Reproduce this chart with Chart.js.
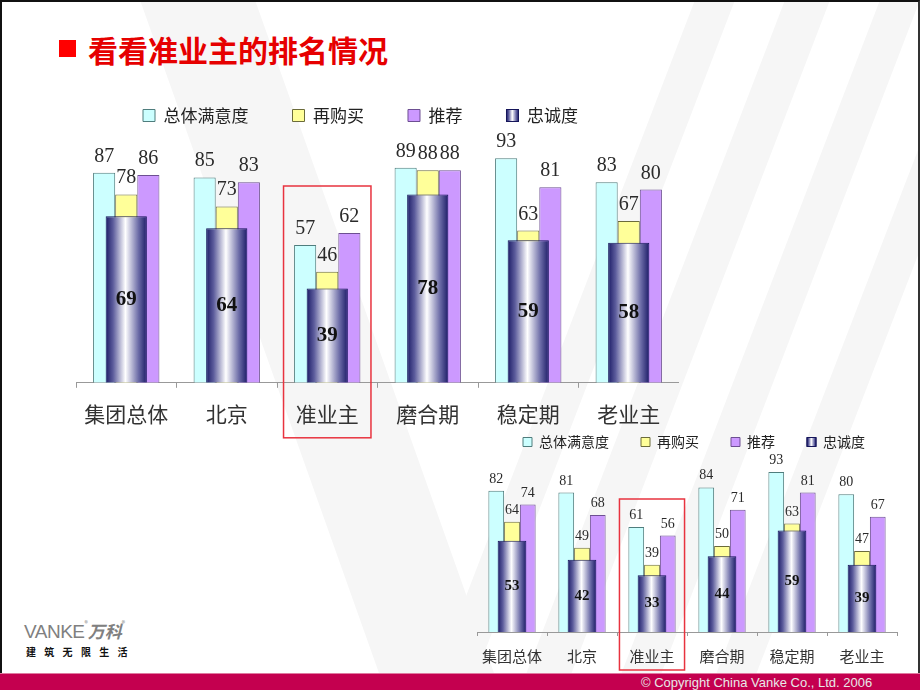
<!DOCTYPE html>
<html>
<head>
<meta charset="utf-8">
<script src="https://cdn.jsdelivr.net/npm/chart.js@4.4.1/dist/chart.umd.min.js"></script>
<style>
    html, body { margin: 0; padding: 0; }
    body {
        width: 920px; height: 690px; position: relative; overflow: hidden;
        background: #fff; font-family: "Noto Sans CJK SC", sans-serif;
    }
    #watermark { position: absolute; left: 0; top: 0; }
    #frame {
        position: absolute; left: 0; top: 0; width: 916px; height: 690px;
        border-left: 2px solid #111; border-right: 2px solid #333; border-top: 2px solid #111;
        box-sizing: content-box;
    }
    #title { position: absolute; left: 59px; top: 33px; height: 32px; }
    #title .mark { position: absolute; left: 0; top: 7px; width: 17px; height: 17px; background: #f00; }
    #title .text {
        position: absolute; left: 29px; top: 0; white-space: nowrap;
        font-size: 30px; line-height: 32px; font-weight: bold; color: #e60000;
    }
    canvas { position: absolute; }
    #c1 { left: 42px; top: 63px; }
    #c2 { left: 471px; top: 403px; }
    #logo { position: absolute; left: 24px; top: 618px; color: #808080; white-space: nowrap; }
    #logo .en { font-family: "Liberation Sans", sans-serif; font-size: 19px; letter-spacing: -0.5px; }
    #logo .reg { font-size: 7px; vertical-align: top; }
    #logo .cn { font-size: 17px; font-weight: bold; font-style: italic; }
    #logo .motto {
        position: absolute; left: 2px; top: 26px; font-size: 10px; font-weight: bold;
        letter-spacing: 8.3px; color: #111;
    }
    #footer {
        position: absolute; left: 0; top: 673px; width: 920px; height: 17px;
        background: #c4004f; border-top: 1px solid #e07aa0;
    }
    #footer span {
        position: absolute; left: 641px; top: 0; font-family: "Liberation Sans", sans-serif;
        font-size: 13px; line-height: 17px; color: #e8e8e8;
    }
</style>
</head>
<body>
<svg id="watermark" width="920" height="690">
    <polygon points="140,0 255,0 500,690 385,690" fill="#f6f6f6"/>
    <polygon points="430,690 470,690 735,0 695,0" fill="#f6f6f6"/>
    <polygon points="520,690 565,690 830,0 785,0" fill="#f6f6f6"/>
    <polygon points="615,690 655,690 920,0 880,0" fill="#f6f6f6"/>
    <polygon points="710,690 750,690 920,250 920,145" fill="#f6f6f6"/>
</svg>
<div id="frame"></div>
<div id="title"><div class="mark"></div><div class="text">看看准业主的排名情况</div></div>

<canvas id="c1" width="637" height="378"></canvas>
<canvas id="c2" width="446" height="273"></canvas>

<div id="logo">
    <span class="en">VANKE</span><span class="reg">®</span><span class="cn">万科</span><span class="reg">®</span>
    <div class="motto">建筑无限生活</div>
</div>
<div id="footer"><span>© Copyright China Vanke Co., Ltd. 2006</span></div>

<script>
// Categories and series names
const categories = ['集团总体', '北京', '准业主', '磨合期', '稳定期', '老业主'];
const seriesNames = ['总体满意度', '再购买', '推荐', '忠诚度'];
const highlighted = '准业主';

// Upper chart
const satisfactionA = [87, 85, 57, 89, 93, 83];
const repurchaseA = [78, 73, 46, 88, 63, 67];
const recommendA = [86, 83, 62, 88, 81, 80];
const loyaltyA = [69, 64, 39, 78, 59, 58];

// Lower chart
const satisfactionB = [82, 81, 61, 84, 93, 80];
const repurchaseB = [64, 49, 39, 50, 63, 47];
const recommendB = [74, 68, 56, 71, 81, 67];
const loyaltyB = [53, 42, 33, 44, 59, 39];

const CJK = '"Noto Sans CJK SC", sans-serif';
const SERIF = '"Liberation Serif", "DejaVu Serif", serif';

// gradient stops of the cylinder bars
const addCylinderStops = (g) => {
    g.addColorStop(0, '#1b1b66');
    g.addColorStop(0.18, '#5c5c9c');
    g.addColorStop(0.48, '#ffffff');
    g.addColorStop(0.8, '#6a6aa6');
    g.addColorStop(1, '#1b1b66');
    return g;
};

// value labels: above the plain bars, centred inside the cylinder
const valueLabels = {
    id: 'valueLabels',
    afterDatasetsDraw(chart, args, opts) {
        const ctx = chart.ctx;
        ctx.save();
        ctx.textAlign = 'center';
        chart.data.datasets.forEach((ds, di) => {
            const meta = chart.getDatasetMeta(di);
            meta.data.forEach((bar, i) => {
                const v = ds.data[i];
                if (ds.inner) {
                    ctx.font = 'bold ' + opts.innerSize + 'px ' + SERIF;
                    ctx.textBaseline = 'middle';
                    ctx.fillStyle = '#111';
                    ctx.fillText(v, bar.x, (bar.y + bar.base) / 2);
                } else {
                    ctx.font = opts.size + 'px ' + SERIF;
                    ctx.textBaseline = 'alphabetic';
                    ctx.fillStyle = '#2a2a2a';
                    ctx.fillText(v, bar.x, bar.y - opts.gap);
                }
            });
        });
        ctx.restore();
    }
};

// red frame around one category
const highlightBox = {
    id: 'highlightBox',
    afterDraw(chart, args, opts) {
        const xs = chart.scales.x;
        const idx = chart.data.labels.indexOf(opts.label);
        if (idx < 0) return;
        const cw = xs.width / chart.data.labels.length;
        const cx = xs.getPixelForValue(idx);
        const area = chart.chartArea;
        const ctx = chart.ctx;
        ctx.save();
        ctx.strokeStyle = '#e8333f';
        ctx.lineWidth = 1.5;
        ctx.strokeRect(cx - cw * opts.half, area.top + opts.top, cw * opts.half * 2,
            area.bottom - area.top - opts.top + opts.bottom);
        ctx.restore();
    }
};

// legend swatch of the cylinder series gets the same gradient
const legendCylinder = {
    id: 'legendCylinder',
    afterDraw(chart) {
        const legend = chart.legend;
        if (!legend || !legend.legendHitBoxes) return;
        const lab = legend.options.labels;
        const fontSize = lab.font.size;
        legend.legendItems.forEach((item, k) => {
            const ds = chart.data.datasets[item.datasetIndex];
            if (!ds.inner) return;
            const hb = legend.legendHitBoxes[k];
            const x = hb.left;
            const y = hb.top + Math.max((fontSize - lab.boxHeight) / 2, 0);
            const ctx = chart.ctx;
            ctx.save();
            ctx.fillStyle = addCylinderStops(ctx.createLinearGradient(x, 0, x + lab.boxWidth, 0));
            ctx.fillRect(x, y, lab.boxWidth, lab.boxHeight);
            ctx.strokeStyle = '#15155a';
            ctx.lineWidth = 1;
            ctx.strokeRect(x, y, lab.boxWidth, lab.boxHeight);
            ctx.restore();
        });
    }
};

const buildChart = (id, sat, rep, rec, loy, s) => {
    const ctx = document.getElementById(id)?.getContext('2d');
    if (!ctx) return;

    const cylinderFill = (c) => {
        const chart = c.chart;
        const xs = chart.scales.x;
        if (!xs || !xs.width || c.dataIndex === undefined) return '#2a2a78';
        const cx = xs.getPixelForValue(c.dataIndex);
        if (!isFinite(cx)) return '#2a2a78';
        const w = xs.width / categories.length * s.cylPct;
        return addCylinderStops(chart.ctx.createLinearGradient(cx - w / 2, 0, cx + w / 2, 0));
    };

    const plain = (label, data, fill, border) => ({
        label: label,
        data: data,
        order: 1,
        backgroundColor: fill,
        borderColor: border,
        borderWidth: 1,
        categoryPercentage: s.groupPct,
        barPercentage: 1
    });

    new Chart(ctx, {
        type: 'bar',
        data: {
            labels: categories,
            datasets: [
                plain(seriesNames[0], sat, '#ccffff', '#4f7d7d'),
                plain(seriesNames[1], rep, '#ffff99', '#6b6b3a'),
                plain(seriesNames[2], rec, '#cc99ff', '#6d4f92'),
                {
                    label: seriesNames[3],
                    data: loy,
                    inner: true,
                    grouped: false,
                    order: 0,
                    backgroundColor: cylinderFill,
                    borderColor: '#15155a',
                    borderWidth: 1,
                    categoryPercentage: s.cylPct,
                    barPercentage: 1
                }
            ]
        },
        options: {
            responsive: false,
            animation: false,
            layout: { padding: 0 },
            plugins: {
                legend: {
                    position: 'top',
                    labels: {
                        boxWidth: s.box,
                        boxHeight: s.box,
                        padding: s.legendPad,
                        color: '#222',
                        font: { family: CJK, size: s.legendFont },
                        sort: (a, b) => a.datasetIndex - b.datasetIndex
                    }
                },
                tooltip: { enabled: false },
                valueLabels: { size: s.valueFont, innerSize: s.innerFont, gap: s.gap },
                highlightBox: { label: highlighted, half: s.boxHalf, top: s.boxTop, bottom: s.boxBottom }
            },
            scales: {
                x: {
                    offset: true,
                    grid: { display: true, drawOnChartArea: false, drawTicks: true, tickLength: s.tick, color: '#999' },
                    border: { display: true, color: '#999' },
                    ticks: { color: '#333', padding: s.tickPad, font: { family: CJK, size: s.catFont } }
                },
                y: {
                    position: s.yPos,
                    min: 0,
                    max: s.yMax,
                    afterFit: (sc) => { sc.width = s.yWidth; },
                    ticks: { display: false },
                    grid: { display: false },
                    border: { display: false }
                }
            }
        },
        plugins: [valueLabels, highlightBox, legendCylinder]
    });
};

document.addEventListener('DOMContentLoaded', function() {
    buildChart('c1', satisfactionA, repurchaseA, recommendA, loyaltyA, {
        groupPct: 0.66, cylPct: 0.41, box: 12, legendPad: 44, legendFont: 17,
        valueFont: 20, innerFont: 21, gap: 11, tick: 5, tickPad: 14, catFont: 21,
        yPos: 'left', yWidth: 34, yMax: 103, boxHalf: 0.435, boxTop: 52, boxBottom: 55
    });
    buildChart('c2', satisfactionB, repurchaseB, recommendB, loyaltyB, {
        groupPct: 0.675, cylPct: 0.41, box: 9, legendPad: 32, legendFont: 14,
        valueFont: 14, innerFont: 15, gap: 8, tick: 4, tickPad: 11, catFont: 15,
        yPos: 'right', yWidth: 20, yMax: 100.5, boxHalf: 0.465, boxTop: 40, boxBottom: 38
    });
});
</script>
</body>
</html>
